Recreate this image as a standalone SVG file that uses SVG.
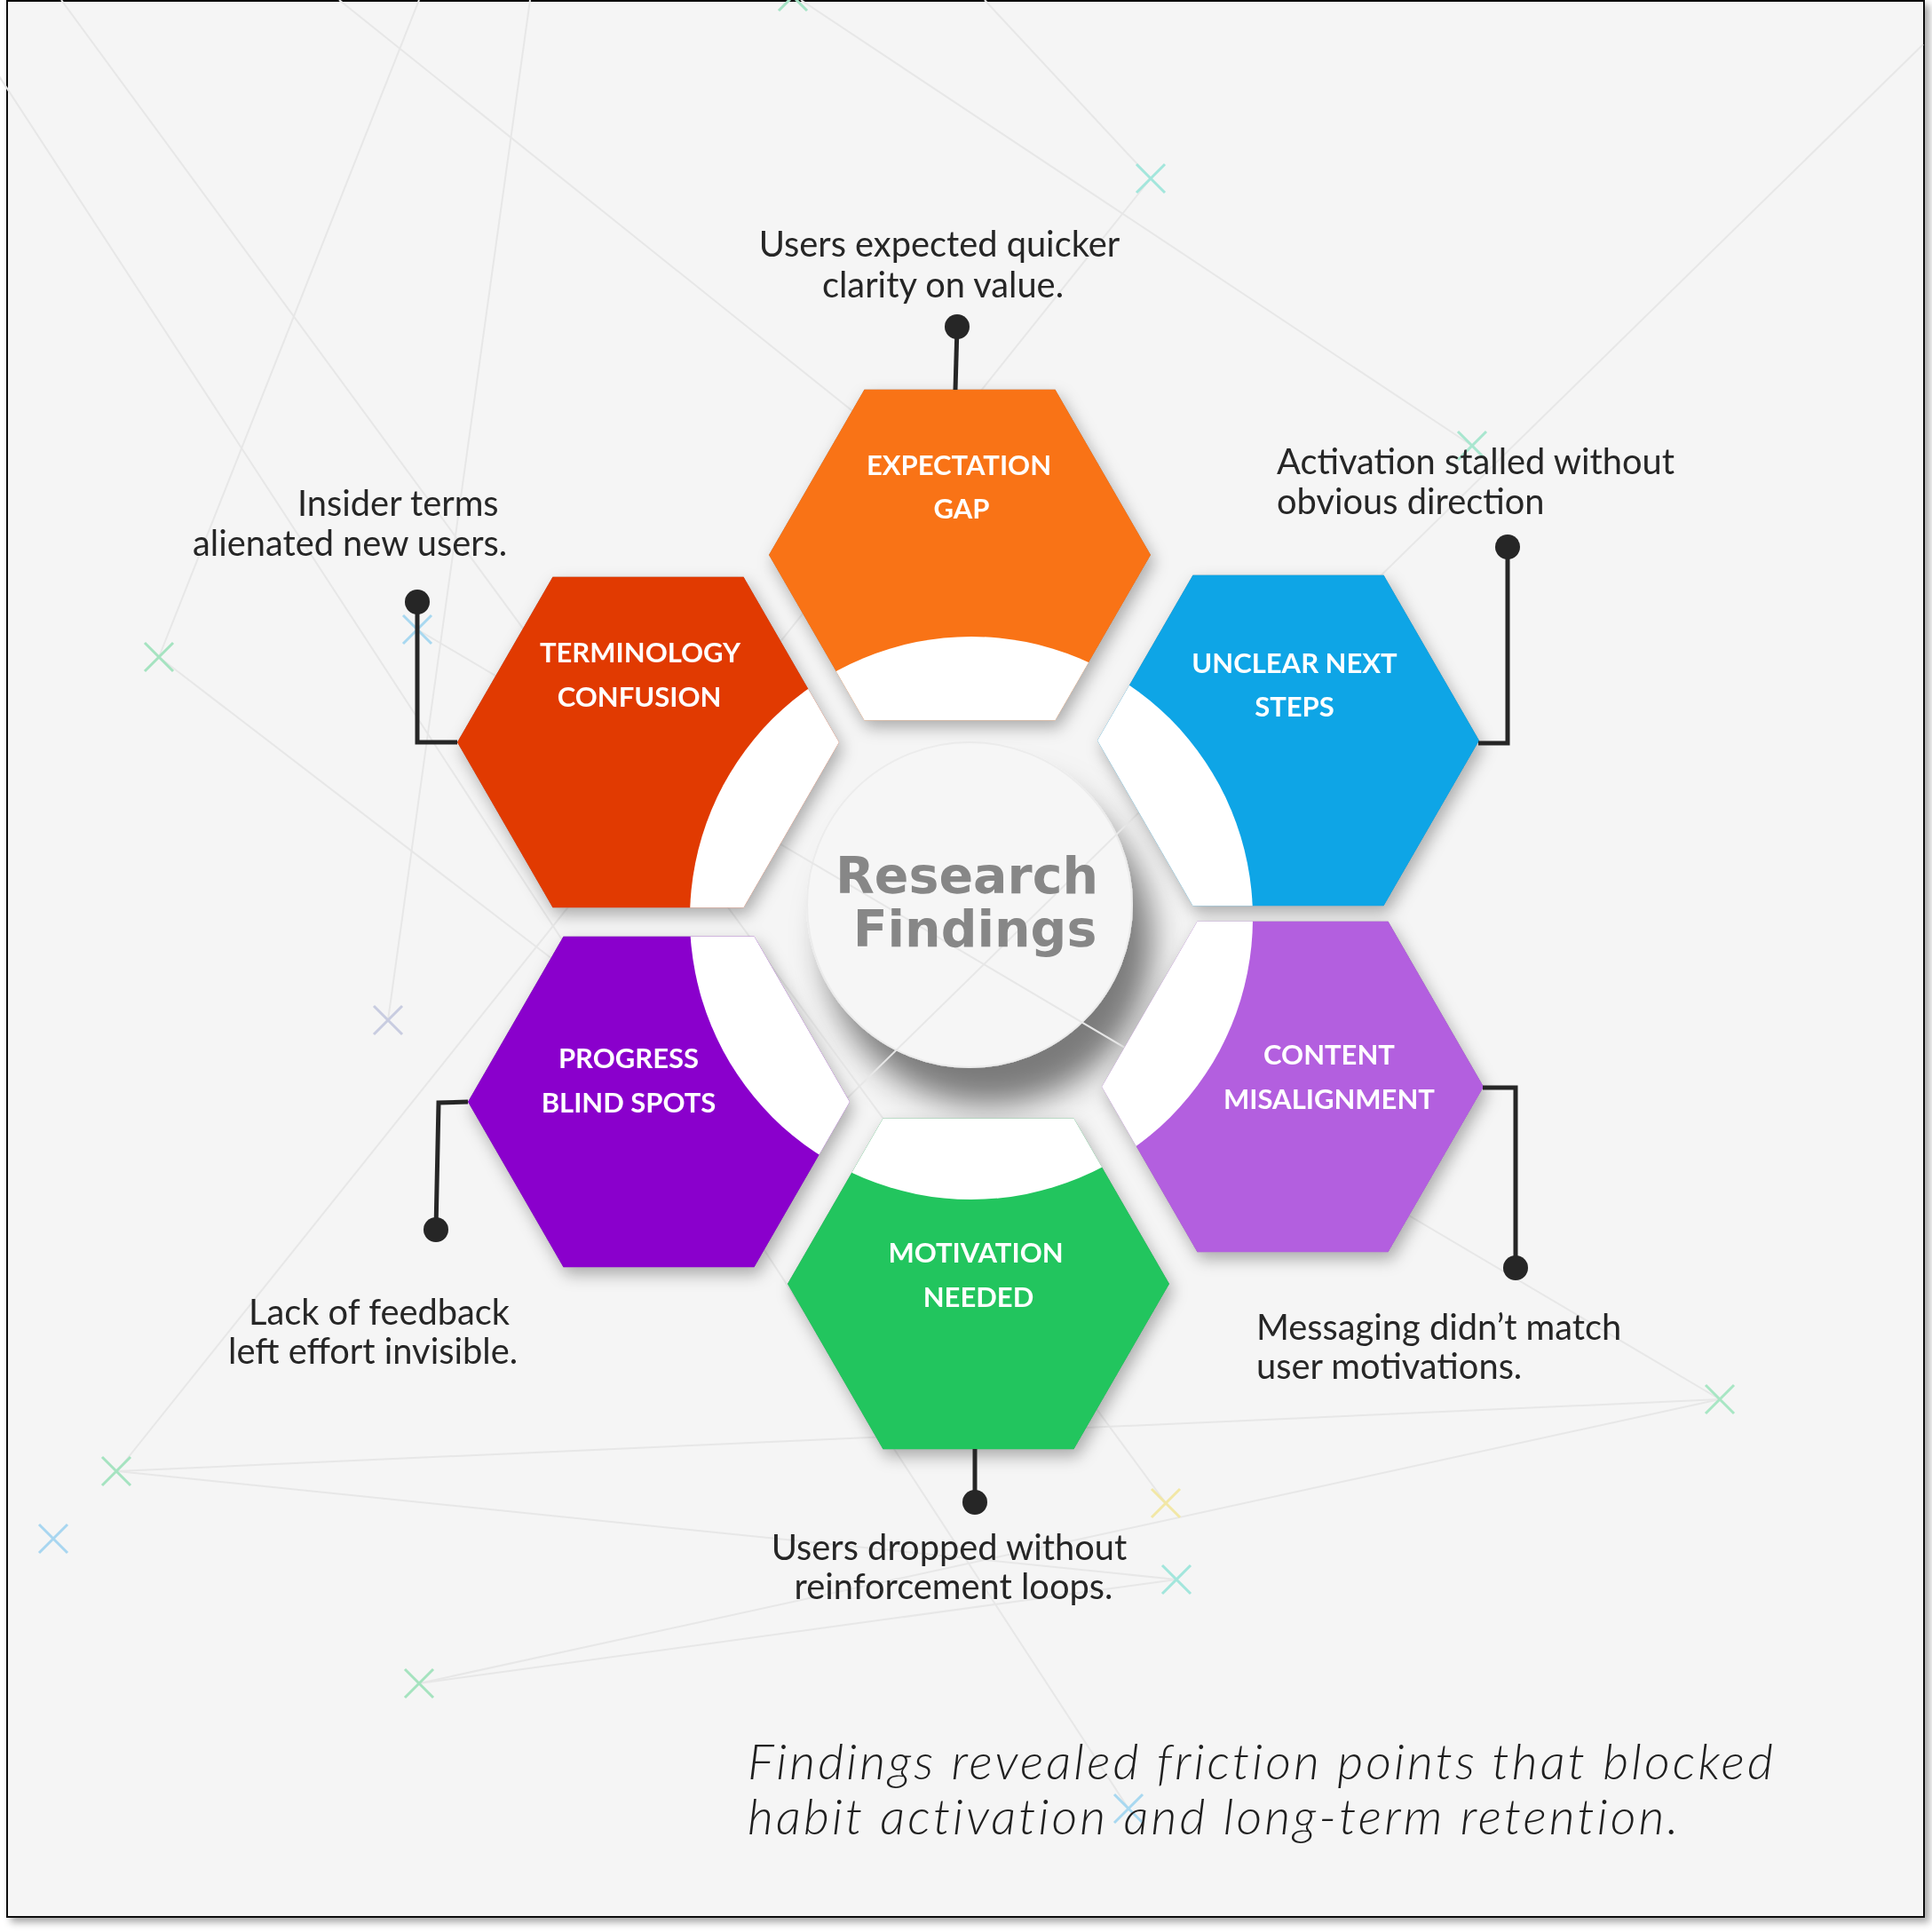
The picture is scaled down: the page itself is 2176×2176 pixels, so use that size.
<svg xmlns="http://www.w3.org/2000/svg" width="2176" height="2176" viewBox="0 0 2176 2176">
<defs>
<style>
.bgl{stroke:#e7e7e7;stroke-width:2;fill:none}
.xm{stroke-width:3;fill:none}
.hexlbl{font-family:Lato,"Liberation Sans",sans-serif;font-weight:700;font-size:31px;fill:#ffffff;text-anchor:middle}
.note{font-family:Lato,"Liberation Sans",sans-serif;font-size:39.8px;fill:#262626}
.conn{stroke:#262626;stroke-width:5;fill:none}
.dot{fill:#262626}
.cap{font-family:Lato,"Liberation Sans",sans-serif;font-style:italic;font-weight:300;font-size:56px;fill:#1f1f1f;letter-spacing:3.1px}
.title{font-family:"DejaVu Sans",sans-serif;font-weight:700;font-size:57px;fill:#878787;text-anchor:middle}
.ring{fill:#ffffff}
</style>
<filter id="hexShadow" x="-20%" y="-20%" width="150%" height="150%">
<feDropShadow dx="4" dy="8" stdDeviation="9" flood-color="#000" flood-opacity="0.3"/>
</filter>
<filter id="circShadow" x="-40%" y="-40%" width="190%" height="190%">
<feDropShadow dx="22" dy="42" stdDeviation="18" flood-color="#000" flood-opacity="0.5"/>
</filter>
<filter id="frameShadow" x="-5%" y="-5%" width="110%" height="110%">
<feDropShadow dx="5" dy="5" stdDeviation="4" flood-color="#000" flood-opacity="0.35"/>
</filter>
<polygon id="hx" points="-215,0 -107.5,-186.2 107.5,-186.2 215,0 107.5,186.2 -107.5,186.2"/>
<path id="xmk" d="M-16,-16L16,16M16,-16L-16,16"/>
<clipPath id="cExp"><use href="#hx" transform="translate(1081,625)"/></clipPath>
<clipPath id="cTer"><use href="#hx" transform="translate(730,836)"/></clipPath>
<clipPath id="cUnc"><use href="#hx" transform="translate(1451,834)"/></clipPath>
<clipPath id="cCon"><use href="#hx" transform="translate(1456,1224)"/></clipPath>
<clipPath id="cMot"><use href="#hx" transform="translate(1102,1446)"/></clipPath>
<clipPath id="cPro"><use href="#hx" transform="translate(742,1241)"/></clipPath>
</defs>

<rect x="0" y="0" width="2176" height="2176" fill="#ffffff"/>
<rect x="8" y="1" width="2159" height="2158" fill="#f5f5f5" stroke="#111111" stroke-width="2" filter="url(#frameShadow)"/>

<g id="central-circle">
<circle cx="1092" cy="1019" r="183" fill="#f6f6f6" stroke="#ececec" stroke-width="2" filter="url(#circShadow)"/>
</g>

<g id="background">
<line class="bgl" x1="69" y1="0" x2="1313" y2="1693"/>
<line class="bgl" x1="-57" y1="0" x2="1271" y2="2037"/>
<line class="bgl" x1="472" y1="0" x2="179" y2="740"/>
<line class="bgl" x1="597" y1="0" x2="437" y2="1149"/>
<line class="bgl" x1="382" y1="0" x2="1100" y2="575"/>
<line class="bgl" x1="179" y1="740" x2="700" y2="1140"/>
<line class="bgl" x1="470" y1="709" x2="1937" y2="1576"/>
<line class="bgl" x1="2166" y1="50" x2="900" y2="1290"/>
<line class="bgl" x1="1109" y1="0" x2="1296" y2="201"/>
<line class="bgl" x1="1296" y1="201" x2="132" y2="1657"/>
<line class="bgl" x1="902" y1="0" x2="1658" y2="502"/>
<line class="bgl" x1="132" y1="1657" x2="1937" y2="1576"/>
<line class="bgl" x1="132" y1="1657" x2="1325" y2="1779"/>
<line class="bgl" x1="472" y1="1896" x2="1937" y2="1576"/>
<line class="bgl" x1="472" y1="1896" x2="1325" y2="1779"/>
<use href="#xmk" class="xm" stroke="#a6e3c6" transform="translate(893,-4)"/>
<use href="#xmk" class="xm" stroke="#a3e6dc" transform="translate(1296,201)"/>
<use href="#xmk" class="xm" stroke="#a8e6cf" transform="translate(1658,502)"/>
<use href="#xmk" class="xm" stroke="#a5e3c0" transform="translate(179,740)"/>
<use href="#xmk" class="xm" stroke="#a8d8f0" transform="translate(470,709)"/>
<use href="#xmk" class="xm" stroke="#c8cce0" transform="translate(437,1149)"/>
<use href="#xmk" class="xm" stroke="#a5e3c0" transform="translate(131,1657)"/>
<use href="#xmk" class="xm" stroke="#a8d6f0" transform="translate(60,1733)"/>
<use href="#xmk" class="xm" stroke="#a5e3bf" transform="translate(472,1896)"/>
<use href="#xmk" class="xm" stroke="#f2e7a6" transform="translate(1313,1693)"/>
<use href="#xmk" class="xm" stroke="#a2e6dc" transform="translate(1325,1779)"/>
<use href="#xmk" class="xm" stroke="#a8e6c4" transform="translate(1937,1576)"/>
<use href="#xmk" class="xm" stroke="#a8d8f0" transform="translate(1271,2037)"/>
</g>

<g id="central-title">
<text class="title" x="1089" y="1006">Research</text>
<text class="title" x="1098" y="1066">Findings</text>
</g>

<g id="hex-shadows" filter="url(#hexShadow)" fill="#888888">
<use href="#hx" transform="translate(1081,625)"/>
<use href="#hx" transform="translate(730,836)"/>
<use href="#hx" transform="translate(1451,834)"/>
<use href="#hx" transform="translate(1456,1224)"/>
<use href="#hx" transform="translate(1102,1446)"/>
<use href="#hx" transform="translate(742,1241)"/>
</g>

<g id="node-expectation-gap">
<use href="#hx" transform="translate(1081,625)" fill="#f97316"/>
<circle class="ring" cx="1094" cy="1034" r="317" clip-path="url(#cExp)"/>
<text class="hexlbl" x="1080" y="535">EXPECTATION</text>
<text class="hexlbl" x="1083" y="584">GAP</text>
<text class="note" x="1058" y="289" text-anchor="middle">Users expected quicker</text>
<text class="note" x="1062" y="335" text-anchor="middle">clarity on value.</text>
</g>

<g id="node-terminology-confusion">
<use href="#hx" transform="translate(730,836)" fill="#e13a01"/>
<circle class="ring" cx="1094" cy="1034" r="317" clip-path="url(#cTer)"/>
<text class="hexlbl" x="721" y="746">TERMINOLOGY</text>
<text class="hexlbl" x="720" y="796">CONFUSION</text>
<text class="note" x="335" y="581">Insider terms</text>
<text class="note" x="217" y="626">alienated new users.</text>
</g>

<g id="node-unclear-next-steps">
<use href="#hx" transform="translate(1451,834)" fill="#0ea5e6"/>
<circle class="ring" cx="1094" cy="1034" r="317" clip-path="url(#cUnc)"/>
<text class="hexlbl" x="1458" y="758">UNCLEAR NEXT</text>
<text class="hexlbl" x="1458" y="807">STEPS</text>
<text class="note" x="1438" y="534">Activation stalled without</text>
<text class="note" x="1438" y="579">obvious direction</text>
</g>

<g id="node-content-misalignment">
<use href="#hx" transform="translate(1456,1224)" fill="#b35fdf"/>
<circle class="ring" cx="1094" cy="1034" r="317" clip-path="url(#cCon)"/>
<text class="hexlbl" x="1497" y="1199">CONTENT</text>
<text class="hexlbl" x="1497" y="1249">MISALIGNMENT</text>
<text class="note" x="1415" y="1509">Messaging didn’t match</text>
<text class="note" x="1415" y="1553">user motivations.</text>
</g>

<g id="node-motivation-needed">
<use href="#hx" transform="translate(1102,1446)" fill="#22c55e"/>
<circle class="ring" cx="1094" cy="1034" r="317" clip-path="url(#cMot)"/>
<text class="hexlbl" x="1099" y="1422">MOTIVATION</text>
<text class="hexlbl" x="1102" y="1472">NEEDED</text>
<text class="note" x="1069" y="1757" text-anchor="middle">Users dropped without</text>
<text class="note" x="1074" y="1801" text-anchor="middle">reinforcement loops.</text>
</g>

<g id="node-progress-blind-spots">
<use href="#hx" transform="translate(742,1241)" fill="#8a00cc"/>
<circle class="ring" cx="1094" cy="1034" r="317" clip-path="url(#cPro)"/>
<text class="hexlbl" x="708" y="1203">PROGRESS</text>
<text class="hexlbl" x="708" y="1253">BLIND SPOTS</text>
<text class="note" x="280" y="1492">Lack of feedback</text>
<text class="note" x="257" y="1536">left effort invisible.</text>
</g>

<g id="connectors">
<polyline class="conn" points="1078,368 1076,439"/>
<circle class="dot" cx="1078" cy="368" r="14"/>
<polyline class="conn" points="470,678 470,836 515,836"/>
<circle class="dot" cx="470" cy="678" r="14"/>
<polyline class="conn" points="1698,616 1698,837 1665,837"/>
<circle class="dot" cx="1698" cy="616" r="14"/>
<polyline class="conn" points="1670,1225 1707,1225 1707,1428"/>
<circle class="dot" cx="1707" cy="1428" r="14"/>
<polyline class="conn" points="1098,1632 1098,1692"/>
<circle class="dot" cx="1098" cy="1692" r="14"/>
<polyline class="conn" points="527,1241 494,1242 491,1385"/>
<circle class="dot" cx="491" cy="1385" r="14"/>
</g>

<g id="caption">
<text class="cap" x="842" y="2004">Findings revealed friction points that blocked</text>
<text class="cap" x="842" y="2066">habit activation and long-term retention.</text>
</g>
</svg>
